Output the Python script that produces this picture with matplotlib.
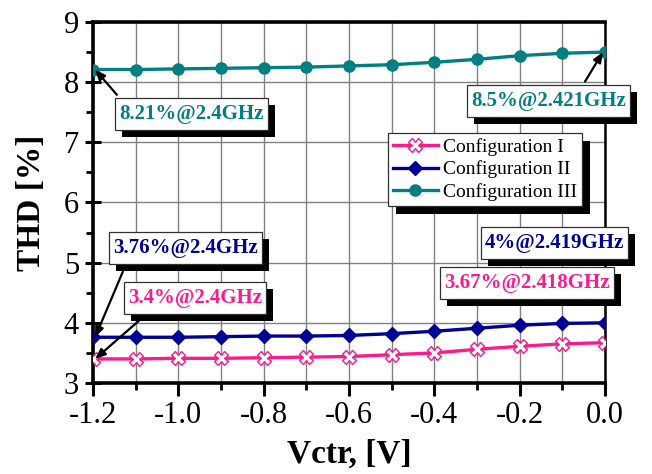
import matplotlib
matplotlib.use("Agg")
import matplotlib.pyplot as plt
from matplotlib.patches import Rectangle
from matplotlib.ticker import MultipleLocator

plt.rcParams['font.family'] = ['Liberation Serif', 'DejaVu Serif']

# Control voltage sweep and THD for the three configurations
vctr = [-1.2, -1.1, -1.0, -0.9, -0.8, -0.7, -0.6, -0.5, -0.4, -0.3, -0.2, -0.1, 0.0]
thd_cfg1 = [3.40, 3.40, 3.41, 3.41, 3.42, 3.43, 3.44, 3.47, 3.50, 3.56, 3.61, 3.65, 3.67]
thd_cfg2 = [3.76, 3.76, 3.76, 3.77, 3.78, 3.78, 3.79, 3.82, 3.86, 3.91, 3.96, 3.99, 4.00]
thd_cfg3 = [8.21, 8.21, 8.22, 8.23, 8.24, 8.25, 8.27, 8.29, 8.33, 8.38, 8.44, 8.48, 8.50]
series_names = ['Configuration I', 'Configuration II', 'Configuration III']

c_pink = '#ff1a8c'
c_navy = '#000099'
c_teal = '#008080'

fig = plt.figure(figsize=(6.52, 4.74), dpi=100)
ax = fig.add_axes([0.1426, 0.192, 0.7854, 0.7616])

ax.plot(vctr, thd_cfg1, color=c_pink, lw=2.4, marker='X', ms=10,
        mfc='white', mec=c_pink, mew=1.0, label=series_names[0], zorder=4)
ax.plot(vctr, thd_cfg2, color=c_navy, lw=2.4, marker='D', ms=7,
        mfc=c_navy, mec=c_navy, label=series_names[1], zorder=4)
ax.plot(vctr, thd_cfg3, color=c_teal, lw=2.4, marker='o', ms=8,
        mfc=c_teal, mec=c_teal, label=series_names[2], zorder=4)

ax.set_xlim(-1.2, 0.0)
ax.set_ylim(3, 9)
ax.xaxis.set_major_locator(MultipleLocator(0.2))
ax.xaxis.set_minor_locator(MultipleLocator(0.1))
ax.yaxis.set_major_locator(MultipleLocator(1))
ax.yaxis.set_minor_locator(MultipleLocator(0.5))
ax.set_xticklabels([f'{v:.1f}' for v in ax.get_xticks()])

ax.grid(True, which='both', axis='x', color='#808080', lw=1.0, zorder=0)
ax.grid(True, which='major', axis='y', color='#808080', lw=1.0, zorder=0)
ax.set_axisbelow(True)

ax.tick_params(axis='both', which='major', labelsize=22, width=2.2, length=9,
               direction='out', pad=4)
ax.tick_params(axis='y', which='major', direction='inout', length=12)
ax.tick_params(axis='both', which='minor', width=2.0, length=5, direction='out')

for side in ('left', 'bottom', 'top'):
    ax.spines[side].set_linewidth(2.6)
ax.spines['right'].set_linewidth(1.8)

ax.set_xlabel('Vctr, [V]', fontsize=24, fontweight='bold', labelpad=6)
ax.set_ylabel('THD [%]', fontsize=24, fontweight='bold', labelpad=12)

# Value labels: (x, y, text, colour)
labels = [
    (-0.969, 7.47, '8.21%@2.4GHz', c_teal),
    (-0.132, 7.69, '8.5%@2.421GHz', c_teal),
    (-0.984, 5.24, '3.76%@2.4GHz', c_navy),
    (-0.961, 4.42, '3.4%@2.4GHz', c_pink),
    (-0.118, 5.335, '4%@2.419GHz', c_navy),
    (-0.183, 4.662, '3.67%@2.418GHz', c_pink),
]
texts = [ax.text(x, y, s, color=c, fontsize=15, fontweight='bold',
                 ha='center', va='center', zorder=6.2, clip_on=False)
         for x, y, s, c in labels]

def arrow(x0, y0, x1, y1):
    ax.annotate('', xy=(x1, y1), xytext=(x0, y0),
                arrowprops=dict(arrowstyle='-|>,head_length=0.6,head_width=0.25',
                                color='black', lw=1.6, shrinkA=0, shrinkB=0),
                zorder=7, annotation_clip=False)

arrow(-1.144, 7.79, -1.195, 8.21)
arrow(-0.047, 8.01, -0.005, 8.50)
arrow(-1.13, 4.85, -1.195, 3.76)
arrow(-1.085, 4.08, -1.195, 3.40)

leg = ax.legend(loc='upper left', bbox_to_anchor=(0.576, 0.6925), fontsize=14,
                frameon=True, fancybox=False, edgecolor='#303030', framealpha=1,
                borderpad=0.25, labelspacing=0.25, handlelength=2.3,
                handletextpad=0.3, borderaxespad=0)
leg.get_frame().set_linewidth(0.9)
leg.set_zorder(8)

# Frames and solid drop shadows, sized from the rendered text extents
fig.canvas.draw()
renderer = fig.canvas.get_renderer()
W, H = fig.bbox.width, fig.bbox.height

def framed(bb_px, hpad, vpad, shift, z):
    x0, y0 = bb_px.x0 - hpad, bb_px.y0 - vpad
    w, h = bb_px.width + 2 * hpad, bb_px.height + 2 * vpad
    ax.add_patch(Rectangle(((x0 + shift) / W, (y0 - shift) / H), w / W, h / H,
                           transform=fig.transFigure, fc='black', ec='none',
                           zorder=z - 0.2, clip_on=False))
    ax.add_patch(Rectangle((x0 / W, y0 / H), w / W, h / H,
                           transform=fig.transFigure, fc='white', ec='#303030',
                           lw=0.9, zorder=z - 0.1, clip_on=False))

for t in texts:
    framed(t.get_window_extent(renderer), 4, 6, 7, 6.2)

lb = leg.get_window_extent(renderer)
ax.add_patch(Rectangle(((lb.x0 + 8) / W, (lb.y0 - 8) / H), lb.width / W, lb.height / H,
                       transform=fig.transFigure, fc='black', ec='none',
                       zorder=7.5, clip_on=False))

fig.savefig('out.png', dpi=100)
